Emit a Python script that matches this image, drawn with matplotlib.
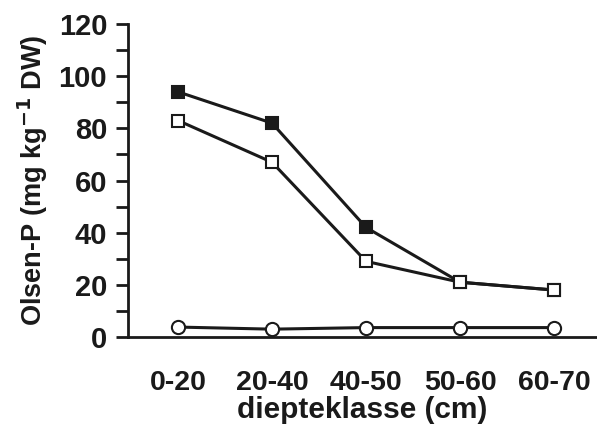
import matplotlib
matplotlib.use("Agg")
import matplotlib.pyplot as plt
from matplotlib.ticker import MultipleLocator

# depth classes and Olsen-P values
klassen = ["0-20", "20-40", "40-50", "50-60", "60-70"]
gevuld = [94, 82, 42, 21, 18]
open_vierkant = [83, 67, 29, 21, 18]
cirkel = [3.8, 3.0, 3.6, 3.6, 3.6]

plt.rcParams["font.family"] = ["Liberation Sans", "DejaVu Sans"]
plt.rcParams["font.weight"] = "bold"

fig = plt.figure(figsize=(5.97, 4.29), dpi=100)
ax = fig.add_axes([0.2144, 0.2145, 0.7856, 0.7295])

x = range(len(klassen))
ax.plot(x, cirkel, color="#1a1a1a", lw=2.2, marker="o", ms=9.5,
        mfc="white", mec="#1a1a1a", mew=1.5, zorder=3)
ax.plot(x, gevuld, color="#1a1a1a", lw=2.2, marker="s", ms=8,
        mfc="#1a1a1a", mec="#1a1a1a", mew=1.5, zorder=3)
ax.plot(x, open_vierkant, color="#1a1a1a", lw=2.2, marker="s", ms=8,
        mfc="white", mec="#1a1a1a", mew=1.5, zorder=4)

ax.set_xlim(-0.532, 4.457)
ax.set_ylim(0, 120)
ax.set_xticks(list(x))
ax.set_xticklabels(klassen)
ax.yaxis.set_major_locator(MultipleLocator(20))
ax.yaxis.set_minor_locator(MultipleLocator(10))

for s in ["top", "right"]:
    ax.spines[s].set_visible(False)
for s in ["left", "bottom"]:
    ax.spines[s].set_linewidth(2.0)
    ax.spines[s].set_color("#1a1a1a")

ax.tick_params(axis="y", which="major", direction="out", length=9, width=2,
               labelsize=21, pad=6, colors="#1a1a1a")
ax.tick_params(axis="y", which="minor", direction="out", length=9, width=2,
               colors="#1a1a1a")
ax.tick_params(axis="x", length=0, labelsize=20.5, pad=24, colors="#1a1a1a")

ax.set_xlabel("diepteklasse (cm)", fontsize=21.5, fontweight="bold",
              color="#1a1a1a", labelpad=0)
ax.set_ylabel(r"Olsen-P (mg kg$^{\mathbf{-1}}$ DW)", fontsize=19.5,
              fontweight="bold", color="#1a1a1a", labelpad=6)

fig.savefig("out.png", dpi=100)
